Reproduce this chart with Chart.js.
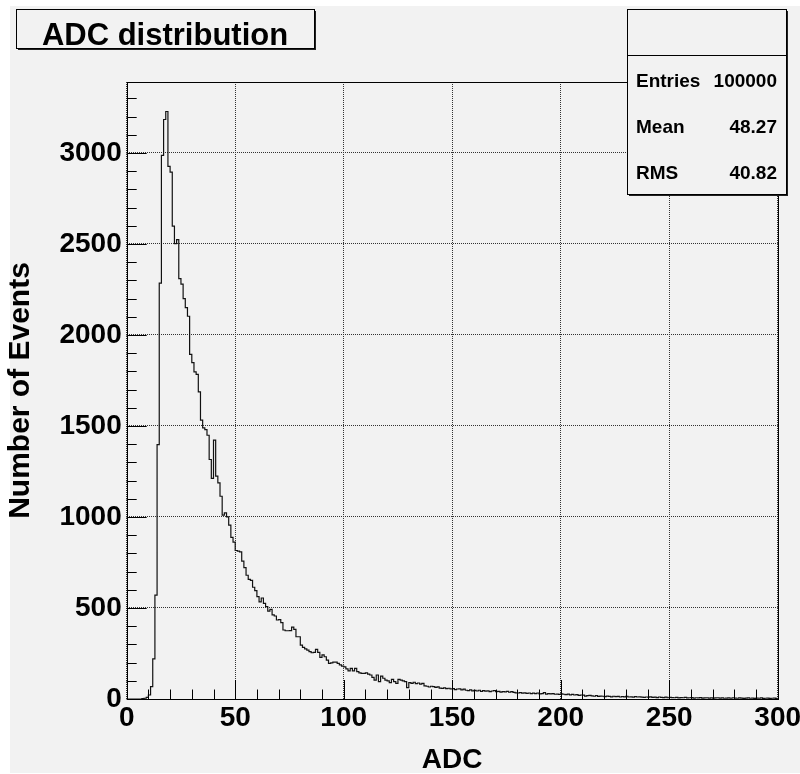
<!DOCTYPE html>
<html>
<head>
<meta charset="utf-8">
<title>ADC distribution</title>
<script src="https://cdn.jsdelivr.net/npm/chart.js@4.4.0/dist/chart.umd.min.js"></script>
<style>
  html, body { margin: 0; padding: 0; background: #fff; }
  canvas { display: block; }
</style>
</head>
<body>
<canvas id="adcChart" width="800" height="774"></canvas>
<script>
// histogram: 300 bins of width 1 ADC, value = counts in [i, i+1)
const counts = [
    0, 0, 0, 0, 0, 0, 0, 2, 4, 9,
    22, 68, 220, 571, 1398, 2285, 2987, 3184, 3228, 2926,
    2895, 2598, 2502, 2524, 2310, 2280, 2200, 2150, 2103, 1894,
    1848, 1797, 1784, 1687, 1532, 1490, 1480, 1449, 1316, 1212,
    1422, 1224, 1188, 1114, 1010, 1023, 1001, 955, 888, 862,
    816, 812, 808, 758, 722, 680, 657, 652, 614, 595,
    562, 534, 555, 525, 507, 483, 492, 462, 456, 434,
    436, 420, 379, 375, 375, 376, 395, 383, 342, 342,
    296, 284, 275, 269, 260, 254, 256, 273, 256, 229,
    242, 232, 214, 196, 199, 203, 203, 196, 187, 181,
    177, 166, 154, 168, 154, 168, 150, 144, 141, 141,
    144, 137, 132, 119, 104, 132, 95, 126, 114, 104,
    100, 90, 108, 95, 86, 108, 104, 100, 96, 62,
    90, 86, 92, 84, 88, 82, 86, 72, 70, 66,
    70, 68, 64, 67, 60, 58, 61, 57, 59, 55,
    57, 52, 55, 56, 50, 54, 48, 46, 50, 45,
    47, 44, 48, 42, 46, 43, 45, 41, 44, 46,
    40, 42, 38, 41, 39, 42, 37, 40, 36, 34,
    33, 35, 32, 34, 31, 33, 30, 32, 29, 33,
    28, 30, 35, 27, 29, 28, 30, 26, 27, 25,
    28, 26, 24, 27, 23, 25, 22, 24, 20, 22,
    21, 16, 19, 20, 17, 15, 18, 14, 16, 15,
    13, 16, 14, 12, 15, 13, 14, 11, 13, 12,
    15, 11, 12, 10, 13, 11, 12, 10, 9, 11,
    10, 12, 9, 10, 8, 11, 9, 8, 10, 7,
    9, 8, 7, 9, 6, 8, 7, 9, 6, 7,
    8, 5, 7, 6, 8, 5, 6, 7, 5, 6,
    4, 6, 7, 5, 6, 4, 5, 6, 4, 7,
    5, 4, 6, 5, 3, 5, 6, 4, 5, 3,
    5, 4, 6, 3, 4, 5, 3, 4, 5, 3
];
const binWidth = 1;
const xRange = [0, 300];
const yRange = [0, 3390];
const xTickValues = [0, 50, 100, 150, 200, 250, 300];
const yTickValues = [0, 500, 1000, 1500, 2000, 2500, 3000];

const titleText = 'ADC distribution';
const xTitle = 'ADC';
const yTitle = 'Number of Events';
const statLabels = ['Entries', 'Mean', 'RMS'];
const statValues = ['100000', '48.27', '40.82'];

const FONT = "'Liberation Sans', Arial, Helvetica, sans-serif";
const BG = '#f2f2f2';

// left edges of bins + closing edge so the last step gets drawn
const points = counts.map((v, i) => ({ x: i * binWidth, y: v }));
points.push({ x: counts.length * binWidth, y: counts[counts.length - 1] });

// ROOT style pad: grey canvas, inward ticks, boxed title and stats
const rootPad = {
    id: 'rootPad',
    beforeDraw(chart) {
        const ctx = chart.ctx;
        ctx.save();
        ctx.fillStyle = '#ffffff';
        ctx.fillRect(0, 0, chart.width, chart.height);
        ctx.fillStyle = BG;
        ctx.fillRect(10, 6, chart.width - 10, chart.height - 7);
        ctx.restore();
    },
    afterDraw(chart) {
        const ctx = chart.ctx;
        const a = chart.chartArea;
        const xs = chart.scales.x;
        const ys = chart.scales.y;
        ctx.save();
        ctx.strokeStyle = '#000';
        ctx.lineWidth = 1;

        // frame
        ctx.strokeRect(Math.round(a.left) + 0.5, Math.round(a.top) + 0.5,
            Math.round(a.right - a.left), Math.round(a.bottom - a.top));

        // x ticks, pointing up into the frame
        ctx.beginPath();
        for (let v = xRange[0]; v <= xRange[1]; v += 10) {
            const px = Math.round(xs.getPixelForValue(v)) + 0.5;
            const len = v % 50 === 0 ? 19 : 9.5;
            ctx.moveTo(px, a.bottom);
            ctx.lineTo(px, a.bottom - len);
        }
        // y ticks, pointing right into the frame
        for (let v = 0; v <= yRange[1]; v += 100) {
            const py = Math.round(ys.getPixelForValue(v)) + 0.5;
            const len = v % 500 === 0 ? 20 : 10;
            ctx.moveTo(a.left, py);
            ctx.lineTo(a.left + len, py);
        }
        ctx.stroke();

        // title box
        drawBox(ctx, 16, 9, 298, 39);
        ctx.fillStyle = '#000';
        ctx.font = 'bold 31px ' + FONT;
        ctx.textAlign = 'center';
        ctx.textBaseline = 'alphabetic';
        ctx.fillText(titleText, 165, 45);

        // stats box
        drawBox(ctx, 627, 9, 159, 185);
        ctx.beginPath();
        ctx.moveTo(627, 55.5);
        ctx.lineTo(786, 55.5);
        ctx.stroke();
        ctx.fillStyle = '#000';
        ctx.font = 'bold 19px ' + FONT;
        const rows = [87, 133, 179];
        statLabels.forEach((lab, i) => {
            ctx.textAlign = 'left';
            ctx.fillText(lab, 636, rows[i]);
            ctx.textAlign = 'right';
            ctx.fillText(statValues[i], 777, rows[i]);
        });
        ctx.restore();
    }
};

function drawBox(ctx, x, y, w, h) {
    ctx.fillStyle = '#222';
    ctx.fillRect(x + 2, y + 2, w, h);
    ctx.fillStyle = BG;
    ctx.fillRect(x, y, w, h);
    ctx.strokeStyle = '#000';
    ctx.lineWidth = 1;
    ctx.strokeRect(x + 0.5, y + 0.5, w, h);
}

const tickFont = { family: FONT, size: 28, weight: 'bold' };
const xTitleFont = { family: FONT, size: 28, weight: 'bold', lineHeight: 1 };
const yTitleFont = { family: FONT, size: 30, weight: 'bold', lineHeight: 1 };

new Chart(document.getElementById('adcChart'), {
    type: 'line',
    data: {
        datasets: [{
            data: points,
            stepped: 'before',
            borderColor: '#111',
            borderWidth: 1.2,
            pointRadius: 0,
            fill: false
        }]
    },
    options: {
        responsive: false,
        animation: false,
        devicePixelRatio: 1,
        layout: { padding: { top: 82, right: 22.3, bottom: 0, left: 0 } },
        plugins: { legend: { display: false }, tooltip: { enabled: false } },
        scales: {
            x: {
                type: 'linear',
                min: xRange[0],
                max: xRange[1],
                grid: { color: '#333', drawTicks: false },
                border: { display: false, dash: [1, 1] },
                ticks: { padding: 2, color: '#000', font: tickFont, maxRotation: 0, autoSkip: false,
                    callback: v => String(v) },
                afterBuildTicks(s) { s.ticks = xTickValues.map(v => ({ value: v })); },
                title: { display: true, text: xTitle, color: '#000', font: xTitleFont, padding: 0 },
                afterFit(s) { s.height = 75; s.paddingLeft = 0; s.paddingRight = 0; }
            },
            y: {
                type: 'linear',
                min: yRange[0],
                max: yRange[1],
                grid: { color: '#333', drawTicks: false },
                border: { display: false, dash: [1, 1] },
                ticks: { padding: 5, color: '#000', font: tickFont, autoSkip: false,
                    callback: v => String(v) },
                afterBuildTicks(s) { s.ticks = yTickValues.map(v => ({ value: v })); },
                title: { display: true, text: yTitle, color: '#000', font: yTitleFont, padding: { top: 6, bottom: 0 } },
                afterFit(s) { s.width = 126.7; s.paddingTop = 0; s.paddingBottom = 0; }
            }
        }
    },
    plugins: [rootPad]
});
</script>
</body>
</html>
